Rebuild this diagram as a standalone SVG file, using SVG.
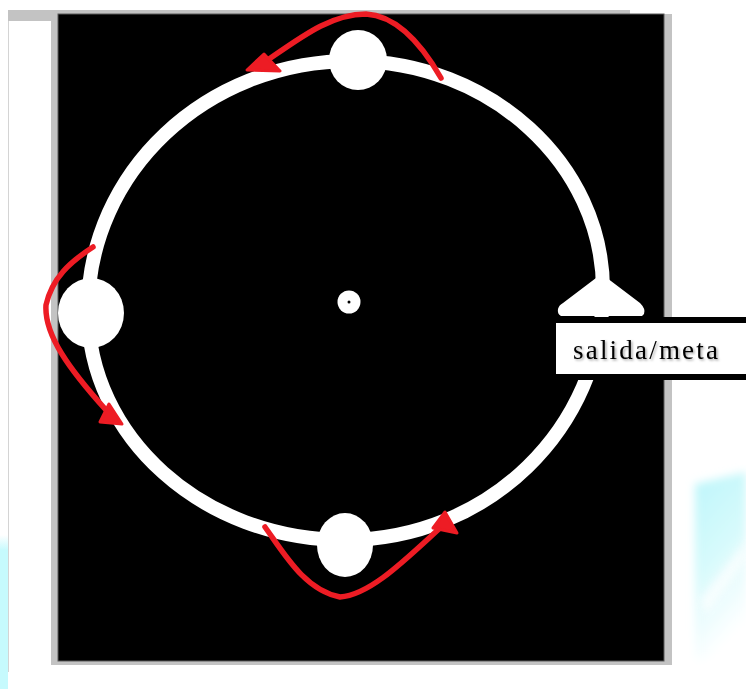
<svg xmlns="http://www.w3.org/2000/svg" width="746" height="689" viewBox="0 0 746 689">
  <style>
    .gray { fill: #c3c3c3; }
    .white { fill: #ffffff; }
    .red { fill: none; stroke: #ed1c24; stroke-width: 5.5; stroke-linecap: round; stroke-linejoin: round; }
    .head { fill: #ed1c24; stroke: #ed1c24; stroke-width: 3; stroke-linejoin: round; }
    .label { font-family: "Liberation Serif", "Times New Roman", serif; font-size: 27px; fill: #000000; }
  </style>
  <defs>
    <linearGradient id="cyanR" x1="0" y1="0" x2="0.3" y2="1">
      <stop offset="0" stop-color="#bdf6fa"/>
      <stop offset="0.5" stop-color="#d6fafc"/>
      <stop offset="1" stop-color="#ffffff"/>
    </linearGradient>
    <linearGradient id="cyanL" x1="0" y1="0" x2="0" y2="1">
      <stop offset="0" stop-color="#ffffff"/>
      <stop offset="0.1" stop-color="#c6fafd"/>
      <stop offset="1" stop-color="#c6fafd"/>
    </linearGradient>
    <filter id="blur" x="-20%" y="-20%" width="140%" height="140%">
      <feGaussianBlur stdDeviation="4"/>
    </filter>
    <filter id="shadow" x="-10%" y="-30%" width="120%" height="160%">
      <feDropShadow dx="1.5" dy="1.5" stdDeviation="1" flood-color="#000000" flood-opacity="0.35"/>
    </filter>
  </defs>

  <!-- background -->
  <rect x="0" y="0" width="746" height="689" fill="#ffffff"/>
  <rect x="0" y="535" width="8" height="154" fill="url(#cyanL)"/>
  <path d="M695,484 L746,472 L746,660 L695,660 Z" fill="url(#cyanR)" filter="url(#blur)"/>
  <path d="M700,600 L746,540 L746,560 L706,615 Z" fill="#ffffff" opacity="0.7" filter="url(#blur)"/>

  <!-- frame -->
  <rect class="gray" x="8" y="10" width="622" height="11"/>
  <rect x="8" y="21" width="1" height="651" fill="#d4d4d4"/>
  <rect class="gray" x="51" y="14" width="621" height="651"/>
  <rect x="58" y="14" width="606" height="647" fill="#000000" stroke="#5a5a5a" stroke-width="1"/>

  <!-- track -->
  <g id="track">
    <path d="M352,61 C490,61 603,164 603,290 C603,428 488,540 345,540 C203,540 88,437 88,310 C88,172 206,61 352,61 Z" fill="none" stroke="#ffffff" stroke-width="14"/>
  </g>

  <g id="node-top">
    <ellipse class="white" cx="358" cy="60" rx="29" ry="30"/>
  </g>
  <g id="node-left">
    <ellipse class="white" cx="91" cy="313" rx="33" ry="35"/>
  </g>
  <g id="node-bottom">
    <ellipse class="white" cx="345" cy="545" rx="28" ry="32"/>
  </g>
  <g id="node-center">
    <circle class="white" cx="349" cy="302" r="11.5"/>
    <circle cx="349" cy="302" r="1.5" fill="#000000"/>
  </g>

  <g id="node-finish">
    <path class="white" d="M596,278 L607,278 L640,303 Q646,309 644,314 L642,316 L561,316 Q557,314 558,309 Q559,305 563,303 Z"/>
    <rect x="553" y="317" width="200" height="63" fill="#000000"/>
    <rect class="white" x="556" y="323" width="200" height="51"/>
    <text class="label" x="573" y="359" textLength="145" lengthAdjust="spacing" filter="url(#shadow)">salida/meta</text>
  </g>

  <!-- connectors -->
  <g id="connectors">
    <path class="red" d="M441,78 C425,50 400,16 366,14 C330,14 300,38 262,64"/>
    <polygon class="head" points="247,70 264,54 280,71"/>
    <path class="red" d="M93,247 C70,262 52,278 46,305 C44,335 70,370 106,410"/>
    <polygon class="head" points="100,422 109,404 122,424"/>
    <path class="red" d="M265,527 C285,555 305,590 340,597 C370,595 405,560 440,528"/>
    <polygon class="head" points="433,528 445,512 457,533"/>
  </g>
</svg>
